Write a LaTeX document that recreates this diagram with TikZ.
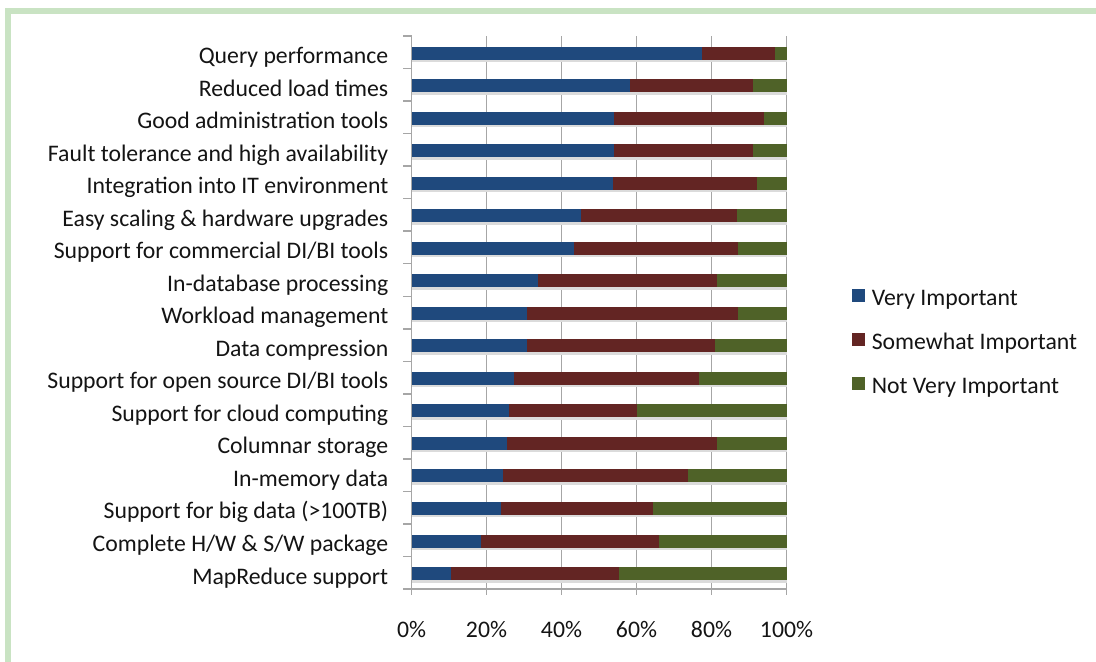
\documentclass[tikz,border=0pt]{standalone}
\usepackage{fontspec}
\setmainfont{Carlito}
\definecolor{vimp}{HTML}{1F497D}
\definecolor{simp}{HTML}{632523}
\definecolor{nimp}{HTML}{4F6228}
\definecolor{framegreen}{HTML}{C9E3C3}
\definecolor{gridgray}{HTML}{A6A6A6}
\begin{document}
\begin{tikzpicture}[x=0.75pt,y=-0.75pt,
  lbl/.style={font=\fontsize{17.8}{20}\selectfont, text=black!92, inner sep=0pt},
  gridline/.style={draw=gridgray, line width=1.1pt},
  axisline/.style={draw=gridgray, line width=1.1pt},
  barshadow/.style={fill=black!14},
  keybox/.style={minimum size=9.75pt, inner sep=0pt, draw=none}]
  \useasboundingbox (0,0) rectangle (1096,661);
  \fill[white] (0,0) rectangle (1096,661);
  % green frame along the top and left edges
  \begin{scope}
    \clip (0,0) rectangle (1096,661);
    \draw[framegreen, line width=4.5pt] (8,11) rectangle (1130,720);
  \end{scope}

  % vertical gridlines at 20% steps
  \foreach \k in {1,...,5}
    \draw[gridline] ({411.5+75*\k},36) -- ({411.5+75*\k},589);

  % stacked bars: label / very important / very + somewhat (cumulative %)
  \foreach \lab/\b/\r [count=\i from 0] in {
      Query performance/77.4/96.9,
      Reduced load times/58.3/91.0,
      Good administration tools/54.1/94.0,
      Fault tolerance and high availability/54.1/91.0,
      Integration into IT environment/53.6/92.2,
      Easy scaling \& hardware upgrades/45.2/86.7,
      {Support for commercial DI/BI tools}/43.4/87.0,
      In-database processing/33.8/81.5,
      Workload management/30.8/87.0,
      Data compression/30.8/80.9,
      {Support for open source DI/BI tools}/27.3/76.7,
      Support for cloud computing/26.1/60.0,
      Columnar storage/25.5/81.5,
      In-memory data/24.3/73.8,
      Support for big data (>100TB)/23.8/64.3,
      {Complete H/W \& S/W package}/18.4/66.1,
      MapReduce support/10.5/55.3} {
    \pgfmathsetmacro\yc{36+32.53*(\i+0.5)+0.8}
    \fill[barshadow] (412,{\yc+6.5}) rectangle (787,{\yc+9});
    \fill[vimp] (411.5,{\yc-6.5}) rectangle ({411.5+3.75*\b},{\yc+6.5});
    \fill[simp] ({411.5+3.75*\b},{\yc-6.5}) rectangle ({411.5+3.75*\r},{\yc+6.5});
    \fill[nimp] ({411.5+3.75*\r},{\yc-6.5}) rectangle (786.5,{\yc+6.5});
    \node[lbl, anchor=base east] (cat\i) at (388.5,{\yc+10.5}) {\lab};
  }

  % axes and tick marks
  \draw[axisline] (411.5,36) -- (411.5,595);
  \draw[axisline] (403,589) -- (786.5,589);
  \foreach \j in {0,...,16}
    \draw[axisline] (403,{36+32.53*\j}) -- (411.5,{36+32.53*\j});
  \foreach \k [evaluate=\k as \p using int(20*\k)] in {0,...,5} {
    \draw[axisline] ({411.5+75*\k},589) -- ({411.5+75*\k},595);
    \node[lbl, anchor=base] (tick\k) at ({411.5+75*\k},637) {\p\%};
  }

  % legend
  \node[keybox, fill=vimp] (keyv) at (858.5,295.5) {};
  \node[lbl, anchor=base west] (legv) at (871.5,305.5) {Very Important};
  \node[keybox, fill=simp] (keys) at (858.5,339.2) {};
  \node[lbl, anchor=base west] (legs) at (871.5,349.2) {Somewhat Important};
  \node[keybox, fill=nimp] (keyn) at (858.5,383) {};
  \node[lbl, anchor=base west] (legn) at (871.5,393) {Not Very Important};
\end{tikzpicture}
\end{document}
